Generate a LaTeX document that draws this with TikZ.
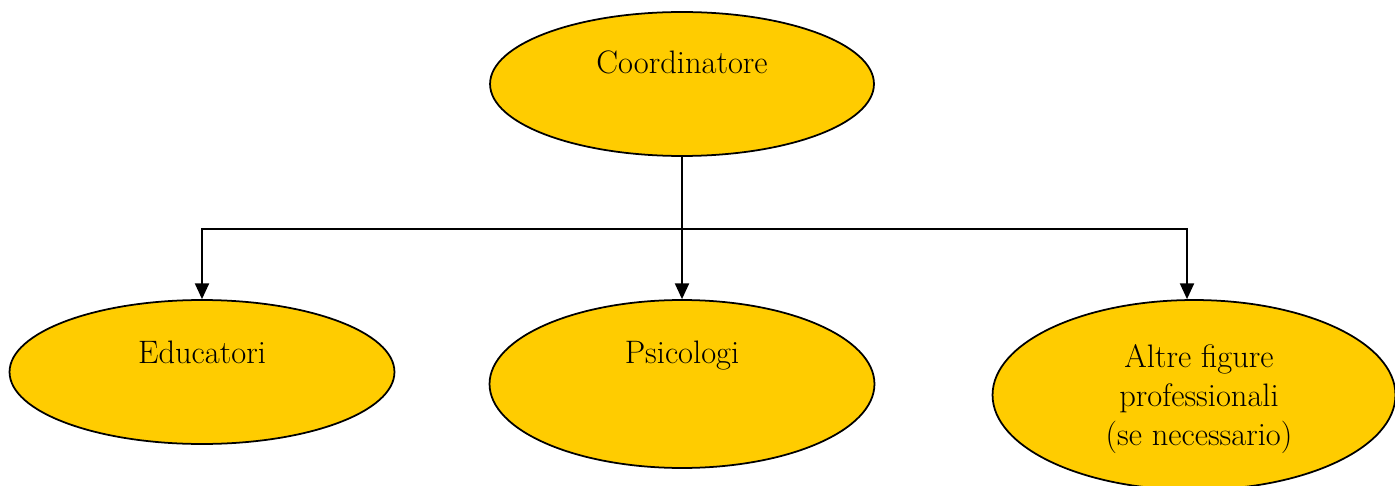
\documentclass[tikz,border=0pt]{standalone}
\usepackage{tikz}
\usetikzlibrary{shapes.geometric}
\usetikzlibrary{arrows.meta}
\definecolor{giallo}{HTML}{FFCC00}
\tikzset{ruolo/.style={shape=ellipse,draw,fill=giallo,line width=1pt,inner sep=0pt}}
\tikzset{scritta/.style={font=\fontsize{18.5}{22}\selectfont,align=center}}
\tikzset{freccia/.style={line width=1.1pt,-{Triangle[length=9pt,width=8pt]}}}

\begin{document}
\begin{tikzpicture}[x=0.02cm,y=-0.02cm]
\useasboundingbox (0,0) rectangle (1395,486);
\node(Coord) at (682,84) [ruolo,minimum width=7.68cm,minimum height=2.88cm,label={[scritta,yshift=0.44cm]center:Coordinatore}] {};
\node(Edu) at (202,372) [ruolo,minimum width=7.7cm,minimum height=2.88cm,label={[scritta,yshift=0.4cm]center:Educatori}] {};
\node(Psi) at (682,384) [ruolo,minimum width=7.7cm,minimum height=3.36cm,label={[scritta,yshift=0.56cm]center:Psicologi}] {};
\node(Altre) at (1194,395) [ruolo,minimum width=8.06cm,minimum height=3.8cm,label={[scritta,xshift=0.1cm,yshift=-0.08cm]center:Altre figure\\professionali\\(se necessario)}] {};
\coordinate(Split) at (682,229);

\draw[line width=1.1pt] (Coord)--(Split);
\draw[freccia] (Split) -| (Edu.north);
\draw[freccia] (Split)--(Psi.north);
\draw[freccia] (Split) -| ([xshift=-0.14cm]Altre.north);
\end{tikzpicture}
\end{document}
